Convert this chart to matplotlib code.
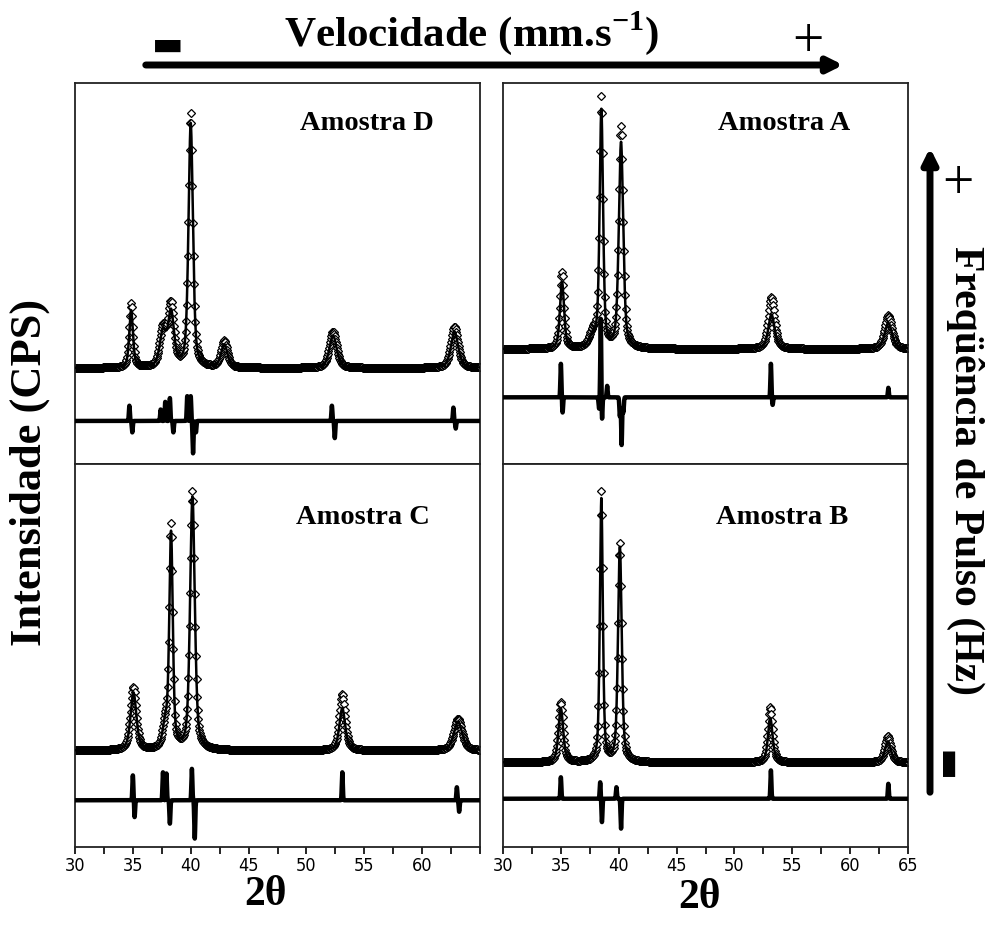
import numpy as np
import matplotlib
matplotlib.use('Agg')
import matplotlib.pyplot as plt
from matplotlib import font_manager
from matplotlib.patches import FancyArrowPatch

# fonts: Times-like bold for labels, narrow sans for tick numbers
names = set(f.name for f in font_manager.fontManager.ttflist)
serif = 'Liberation Serif' if 'Liberation Serif' in names else 'DejaVu Serif'
narrow = 'Liberation Sans Narrow' if 'Liberation Sans Narrow' in names else 'DejaVu Sans'
plt.rcParams['mathtext.fontset'] = 'custom'
plt.rcParams['mathtext.rm'] = serif + ':bold'
plt.rcParams['mathtext.bf'] = serif + ':bold'

# ---- data (y in % of panel height) ----
# Amostra D
d_base, d_diff_base = 25.2, 11.3
d_pos = [34.85, 37.6, 38.3, 40.0, 42.9, 52.3, 62.8]
d_calc = [15.0, 9.0, 14.0, 64.0, 6.0, 8.5, 9.5]
d_obs = [16.8, 10.0, 16.0, 66.5, 7.0, 9.5, 10.8]
d_wid = [0.38, 0.65, 0.6, 0.45, 0.65, 0.75, 0.75]
d_dpos = [34.7, 34.95, 37.4, 37.8, 38.2, 38.5, 39.7, 40.0, 40.2, 40.45, 52.2, 52.45, 62.7, 62.9]
d_damp = [4.0, -3.0, 3.0, 5.0, 6.0, -3.0, 6.5, 6.5, -8.5, -3.0, 4.0, -4.5, 3.5, -2.0]

# Amostra A
a_base, a_diff_base = 30.2, 17.5
a_pos = [35.1, 37.8, 38.5, 40.2, 53.2, 63.3]
a_calc = [17.5, 3.0, 62.0, 54.0, 9.0, 6.8]
a_obs = [20.0, 4.0, 65.0, 58.0, 13.5, 8.8]
a_wid = [0.42, 0.8, 0.35, 0.45, 0.65, 0.75]
a_dpos = [35.0, 35.15, 38.3, 38.45, 38.55, 39.0, 40.1, 40.25, 40.4, 53.15, 53.3, 63.3]
a_damp = [8.8, -4.0, -3.0, 21.0, -6.5, 3.0, -5.0, -12.5, -4.0, 8.8, -2.0, 2.5]

# Amostra C
c_base, c_diff_base = 25.2, 12.2
c_pos = [35.05, 37.8, 38.3, 40.15, 53.1, 63.1]
c_calc = [15.0, 6.0, 56.0, 66.0, 11.0, 7.5]
c_obs = [16.5, 6.5, 58.0, 67.3, 14.8, 8.2]
c_wid = [0.6, 0.5, 0.36, 0.48, 0.6, 0.85]
c_dpos = [35.0, 35.15, 37.6, 37.9, 38.2, 40.1, 40.35, 53.1, 63.0, 63.2]
c_damp = [6.5, -4.4, 7.3, 7.0, -6.1, 8.2, -10.0, 7.3, 3.4, -3.0]

# Amostra B
b_base, b_diff_base = 22.1, 12.6
b_pos = [35.0, 38.5, 40.1, 53.1, 63.26]
b_calc = [14.0, 68.6, 56.0, 11.5, 5.5]
b_obs = [15.7, 70.3, 57.0, 14.4, 6.9]
b_wid = [0.48, 0.3, 0.38, 0.48, 0.6]
b_dpos = [35.0, 38.4, 38.55, 39.8, 40.2, 53.15, 63.3]
b_damp = [5.6, 4.3, -6.1, 3.0, -7.8, 7.4, 3.9]

ticks = [30, 35, 40, 45, 50, 55, 60, 65]
x = np.arange(30.0, 65.0001, 0.01)
x_obs = np.arange(30.0, 65.0001, 0.05)


def profile(t, pos, hgt, wid):
    y = np.zeros_like(t)
    for p, h, w in zip(pos, hgt, wid):
        u = ((t - p) / w) ** 2
        y += h * (0.5 * np.exp(-4 * np.log(2) * u) + 0.5 / (1 + 4 * u))
    return y


def spikes(t, pos, amp):
    y = np.zeros_like(t)
    for p, a in zip(pos, amp):
        y += a * np.exp(-4 * np.log(2) * ((t - p) / 0.1) ** 2)
    return y


def panel(ax, base, dbase, pos, calc, obs, wid, dpos, damp, name, lab_x, lab_y, bottom, labels):
    ax.plot(x_obs, base + profile(x_obs, pos, obs, wid), ls='none', marker='D',
            ms=4.2, mfc='white', mec='black', mew=0.9, zorder=2)
    ax.plot(x, base + profile(x, pos, calc, wid), color='black', lw=1.8, zorder=3)
    ax.plot(x, dbase + spikes(x, dpos, damp), color='black', lw=3.2, zorder=3)
    ax.set_xlim(30, 65)
    ax.set_ylim(0, 100)
    ax.set_yticks([])
    ax.text(lab_x, lab_y, name, transform=ax.transAxes, ha='center', va='center',
            fontsize=20.5, fontweight='bold', family=serif)
    for s in ax.spines.values():
        s.set_linewidth(1.3)
        s.set_color('#222222')
    if bottom:
        ax.set_xticks(ticks)
        ax.set_xticks(np.arange(32.5, 65, 5), minor=True)
        ax.set_xticklabels(labels, family=narrow, fontsize=13, fontstretch='condensed')
        ax.tick_params(axis='x', which='both', direction='out', length=5, width=1.2, pad=2)
    else:
        ax.set_xticks([])


fig = plt.figure(figsize=(9.91, 9.32), dpi=100)
W, H = 991.0, 932.0
lx, lw_ = 75 / W, 405 / W
rx, rw = 503 / W, 405 / W
ty, th = 1 - 464 / H, 381 / H
by, bh = 1 - 847 / H, 383 / H

ax_d = fig.add_axes([lx, ty, lw_, th])
ax_a = fig.add_axes([rx, ty, rw, th])
ax_c = fig.add_axes([lx, by, lw_, bh])
ax_b = fig.add_axes([rx, by, rw, bh])

panel(ax_d, d_base, d_diff_base, d_pos, d_calc, d_obs, d_wid, d_dpos, d_damp,
      'Amostra D', 0.72, 0.895, False, None)
panel(ax_a, a_base, a_diff_base, a_pos, a_calc, a_obs, a_wid, a_dpos, a_damp,
      'Amostra A', 0.695, 0.895, False, None)
panel(ax_c, c_base, c_diff_base, c_pos, c_calc, c_obs, c_wid, c_dpos, c_damp,
      'Amostra C', 0.71, 0.86, True, [str(t) for t in ticks[:-1]] + [''])
panel(ax_b, b_base, b_diff_base, b_pos, b_calc, b_obs, b_wid, b_dpos, b_damp,
      'Amostra B', 0.69, 0.86, True, [str(t) for t in ticks])

# outer labels
fig.text(472 / W, 1 - 33 / H, r'Velocidade (mm.s$^{\mathbf{-1}}$)', ha='center', va='center',
         fontsize=31, fontweight='bold', family=serif)
fig.text(30 / W, 1 - 472 / H, 'Intensidade (CPS)', ha='center', va='center', rotation=90,
         fontsize=32, fontweight='bold', family=serif)
fig.text(965 / W, 1 - 470 / H, 'Freqüência de Pulso (Hz)', ha='center', va='center', rotation=-90,
         fontsize=30, fontweight='bold', family=serif)
fig.text(265 / W, 1 - 895 / H, '2θ', ha='center', va='center', fontsize=30, fontweight='bold', family=serif)
fig.text(700 / W, 1 - 898 / H, '2θ', ha='center', va='center', fontsize=30, fontweight='bold', family=serif)

# velocity arrow with - and +
fig.add_artist(FancyArrowPatch((143 / W, 1 - 65 / H), (846 / W, 1 - 65 / H), transform=fig.transFigure,
                               arrowstyle='-|>', mutation_scale=22, lw=5, color='black'))
fig.text(168 / W, 1 - 45 / H, '▬', ha='center', va='center', fontsize=24, family='DejaVu Sans')
fig.text(808 / W, 1 - 43 / H, '+', ha='center', va='center', fontsize=40, family=serif)

# pulse frequency arrow with + and -
fig.add_artist(FancyArrowPatch((930 / W, 1 - 795 / H), (930 / W, 1 - 145 / H), transform=fig.transFigure,
                               arrowstyle='-|>', mutation_scale=22, lw=5, color='black'))
fig.text(958 / W, 1 - 185 / H, '+', ha='center', va='center', fontsize=40, family=serif)
fig.text(946 / W, 1 - 760 / H, '▬', ha='center', va='center', rotation=90, fontsize=24, family='DejaVu Sans')

fig.savefig('out.png', dpi=100)
